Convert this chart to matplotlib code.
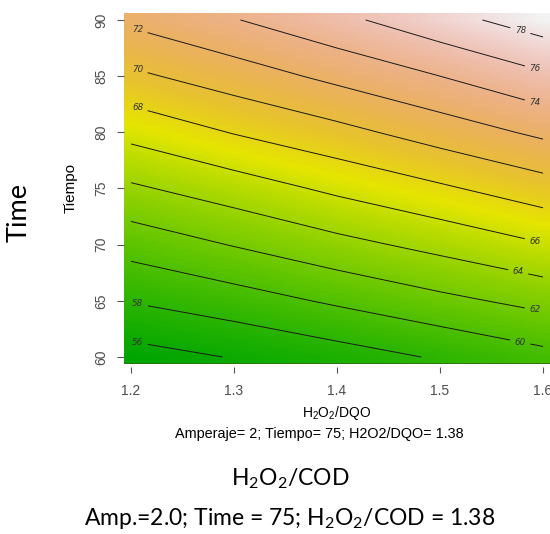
import numpy as np
import matplotlib
matplotlib.use("Agg")
import matplotlib.pyplot as plt
from matplotlib.colors import ListedColormap, hsv_to_rgb

# ejes del grafico de contorno
h2o2_dqo = [1.2, 1.3, 1.4, 1.5, 1.6]
tiempo = [60, 65, 70, 75, 80, 85, 90]
# respuesta (una fila por cada tiempo)
respuesta = [
    [55.2, 56.1, 57.1, 58.2, 59.4],
    [58.1, 59.1, 60.3, 61.5, 62.6],
    [60.8, 62.1, 63.4, 64.6, 65.9],
    [63.7, 65.0, 66.4, 67.7, 69.1],
    [66.6, 68.1, 69.4, 70.9, 72.4],
    [69.6, 71.0, 72.5, 74.0, 75.7],
    [72.4, 73.9, 75.5, 77.3, 79.0],
]
niveles = [56, 58, 60, 62, 64, 66, 68, 70, 72, 74, 76, 78]
xticks = [1.2, 1.3, 1.4, 1.5, 1.6]
yticks = [60, 65, 70, 75, 80, 85, 90]

# donde va la etiqueta de cada curva (valor de x)
x_etiqueta = {56: 1.2065, 58: 1.2065, 68: 1.2065, 70: 1.2065, 72: 1.2065,
              60: 1.578, 62: 1.592, 64: 1.576, 66: 1.592,
              74: 1.592, 76: 1.592, 78: 1.578}


def terrain_colors(n):
    # misma rampa que terrain.colors de R
    k = n // 2
    h = np.r_[np.linspace(4/12, 2/12, k), np.linspace(2/12, 0, n - k + 1)[1:]]
    s = np.r_[np.ones(k), np.linspace(1, 0, n - k + 1)[1:]]
    v = np.r_[np.linspace(0.65, 0.9, k), np.linspace(0.9, 0.95, n - k + 1)[1:]]
    return ListedColormap(hsv_to_rgb(np.column_stack([h, s, v])))


fig = plt.figure(figsize=(5.5, 5.34), dpi=100)
ax = fig.add_axes([124/550, 170/534, 426/550, 351/534])

z = np.array(respuesta)
dx = (h2o2_dqo[1] - h2o2_dqo[0]) / 2
dy = (tiempo[1] - tiempo[0]) / 2
ax.imshow(z, origin='lower', cmap=terrain_colors(200), aspect='auto',
          interpolation='bilinear', interpolation_stage='data',
          extent=(h2o2_dqo[0] - dx, h2o2_dqo[-1] + dx, tiempo[0] - dy, tiempo[-1] + dy))

cs = ax.contour(h2o2_dqo, tiempo, z, levels=niveles, colors='#1a1a1a', linewidths=0.7)

# posiciones de las etiquetas sobre cada curva
manual = []
for i, lev in enumerate(cs.levels):
    verts = cs.get_paths()[i].vertices
    if len(verts) == 0:
        continue
    orden = np.argsort(verts[:, 0])
    xe = x_etiqueta[int(lev)]
    ye = np.interp(xe, verts[orden, 0], verts[orden, 1])
    manual.append((xe, ye))
lbls = ax.clabel(cs, manual=manual, inline=True, inline_spacing=3, fontsize=6.3, fmt='%d')
for t in lbls:
    t.set_rotation(0)
    t.set_style('italic')
    t.set_color('#333333')

ax.set_xlim(1.1932, 1.6068)
ax.set_ylim(59.377, 90.62)
ax.axhline(ax.get_ylim()[0], color='#2c6a12', linewidth=1.2)

for s in ['top', 'right', 'left', 'bottom']:
    ax.spines[s].set_visible(False)
ax.spines['bottom'].set_position(('outward', 2.2))

ax.set_xticks(xticks)
ax.set_yticks(yticks)
ax.set_xticklabels([str(v) for v in xticks], fontsize=10, color='#4d4d4d', family='Liberation Sans')
ax.set_yticklabels([str(v) for v in yticks], fontsize=10, color='#4d4d4d', family='Liberation Sans',
                   rotation=90, va='center')
ax.tick_params(axis='x', length=4.3, width=0.8, color='#555555', pad=8)
ax.tick_params(axis='y', length=5, width=0.8, color='#555555', pad=6)

# textos internos (estilo R)
fig.text(71/550, 1 - 188/534, 'Tiempo', rotation=90, ha='center', va='center',
         fontsize=11, family='Liberation Sans')
fig.text(337/550, 1 - 413/534, r'H$_\mathregular{2}$O$_\mathregular{2}$/DQO', ha='center', va='center',
         fontsize=10, family='Liberation Sans')
fig.text(319/550, 1 - 434/534, 'Amperaje= 2; Tiempo= 75; H2O2/DQO= 1.38', ha='center', va='center',
         fontsize=10.4, family='Liberation Sans')

# textos externos
fig.text(19/550, 1 - 212/534, 'Time', rotation=90, ha='center', va='center',
         fontsize=19.5, family='Lato')
fig.text(290/550, 1 - 485/534, r'H$_\mathregular{2}$O$_\mathregular{2}$/COD', ha='center', va='baseline',
         fontsize=16.5, family='Lato')
fig.text(290/550, 1 - 525/534, r'Amp.=2.0; Time = 75; H$_\mathregular{2}$O$_\mathregular{2}$/COD = 1.38',
         ha='center', va='baseline', fontsize=16.5, family='Lato')

fig.savefig('out.png', dpi=100)
